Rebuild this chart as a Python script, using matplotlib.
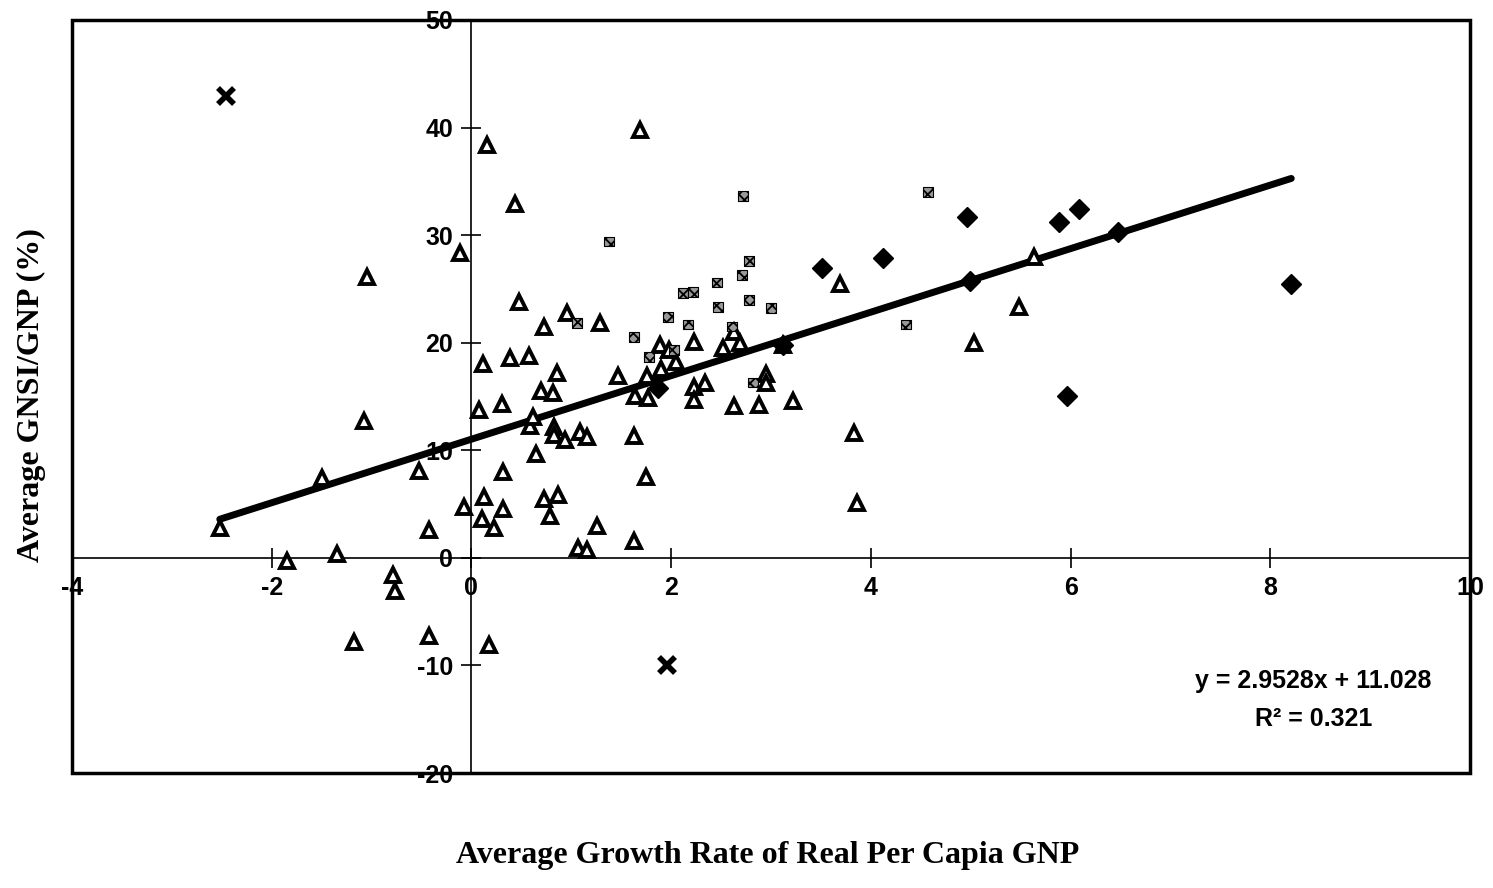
#!/usr/bin/env python3
"""
Scatter of savings ratio vs per capita growth, with the fitted trend line.
"""
import matplotlib
matplotlib.use("Agg")
import matplotlib.pyplot as plt
from matplotlib.patches import Rectangle

plt.rcParams["axes.unicode_minus"] = False
plt.rcParams["hatch.linewidth"] = 1.3

# open triangles
tri_x = [-2.52, -1.85, -1.50, -1.35, -1.18, -1.08, -1.05, -0.79, -0.77, -0.52,
         -0.42, -0.42, -0.11, -0.07, 0.08, 0.12, 0.11, 0.13, 0.16, 0.18,
         0.23, 0.31, 0.32, 0.32, 0.39, 0.44, 0.48, 0.58, 0.59, 0.62,
         0.65, 0.70, 0.73, 0.73, 0.79, 0.82, 0.83, 0.83, 0.86, 0.87,
         0.94, 0.96, 1.07, 1.09, 1.16, 1.16, 1.26, 1.29, 1.47, 1.63,
         1.63, 1.64, 1.69, 1.75, 1.76, 1.77, 1.89, 1.90, 1.98, 2.05,
         2.23, 2.23, 2.23, 2.34, 2.52, 2.63, 2.63, 2.69, 2.88, 2.95,
         2.95, 3.12, 3.22, 3.69, 3.83, 3.86, 5.03, 5.48, 5.63]
tri_y = [2.8, -0.3, 7.4, 0.4, -7.8, 12.7, 26.1, -1.6, -3.1, 8.1,
         2.6, -7.3, 28.3, 4.7, 13.7, 18.0, 3.6, 5.7, 38.4, -8.1,
         2.8, 14.3, 8.0, 4.5, 18.6, 32.9, 23.8, 18.8, 12.3, 13.1,
         9.7, 15.5, 21.5, 5.5, 3.9, 15.3, 12.2, 11.4, 17.2, 5.8,
         11.0, 22.8, 0.9, 11.7, 11.2, 0.7, 3.0, 21.8, 16.9, 11.3,
         1.6, 15.0, 39.8, 7.5, 16.9, 14.9, 19.8, 17.6, 19.3, 18.2,
         20.1, 15.9, 14.7, 16.3, 19.5, 21.0, 14.1, 20.0, 14.2, 17.1,
         16.3, 19.8, 14.6, 25.5, 11.6, 5.1, 20.0, 23.3, 28.0]

# filled diamonds
dia_x = [1.87, 3.12, 3.51, 4.12, 4.96, 4.99, 5.88, 5.96, 6.08, 6.47, 8.21]
dia_y = [15.8, 19.8, 26.9, 27.9, 31.7, 25.7, 31.2, 15.0, 32.4, 30.3, 25.5]

# small hatched squares
sq_x = [1.06, 1.38, 1.63, 1.78, 1.97, 2.03, 2.12, 2.17, 2.22, 2.46,
        2.47, 2.61, 2.71, 2.72, 2.78, 2.78, 2.82, 3.00, 4.35, 4.57]
sq_y = [21.8, 29.4, 20.5, 18.7, 22.4, 19.3, 24.6, 21.7, 24.7, 25.6,
        23.3, 21.5, 26.3, 33.6, 27.6, 24.0, 16.3, 23.2, 21.7, 34.0]

# star markers
star_x = [-2.46, 1.96]
star_y = [42.9, -10.0]

slope, intercept = 2.9528, 11.028
fit_x = [-2.52, 8.21]

x_ticks = [-4, -2, 0, 2, 4, 6, 8, 10]
y_ticks = [-20, -10, 0, 10, 20, 30, 40, 50]

fig = plt.figure(figsize=(14.93, 8.88), dpi=100)
ax = fig.add_axes([0.0482, 0.1295, 0.9364, 0.848])
ax.set_xlim(-4, 10)
ax.set_ylim(-20, 50)

ax.plot(fit_x, [slope * v + intercept for v in fit_x], color="black", lw=5,
        solid_capstyle="round", zorder=2)
ax.plot(tri_x, tri_y, ls="none", marker="^", ms=10.5, mfc="white", mec="black",
        mew=2.8, zorder=3)
ax.plot(dia_x, dia_y, ls="none", marker="D", ms=10, mfc="black", mec="black",
        zorder=3)
ax.scatter(sq_x, sq_y, marker="s", s=50, facecolor="#999999", edgecolor="black",
           hatch="xxx", linewidths=0.8, zorder=3)
ax.plot(star_x, star_y, ls="none", marker="x", ms=11, mec="black", mew=4,
        zorder=3)

# axes through the origin, frame drawn around the plot area
ax.spines["left"].set_position(("data", 0))
ax.spines["bottom"].set_position(("data", 0))
for s in ["left", "bottom"]:
    ax.spines[s].set_linewidth(1.2)
for s in ["top", "right"]:
    ax.spines[s].set_linewidth(2)
ax.add_patch(Rectangle((0, 0), 1, 1, transform=ax.transAxes, fill=False,
                       lw=2.5, ec="black", clip_on=False, zorder=5))

ax.set_xticks(x_ticks)
ax.set_yticks(y_ticks)
ax.tick_params(direction="inout", length=14, width=1.2, labelsize=18,
               pad=6)
for lab in ax.get_xticklabels() + ax.get_yticklabels():
    lab.set_family("Liberation Sans")
    lab.set_weight("bold")

ax.text(8.43, -13.24, "y = 2.9528x + 11.028\nR\u00b2 = 0.321", ha="center",
        va="center", fontsize=18, family="Liberation Sans", weight="bold",
        linespacing=1.72)

fig.text(0.514, 0.02, "Average Growth Rate of Real Per Capia GNP",
         ha="center", va="bottom", fontsize=23, family="Liberation Serif",
         weight="bold")
fig.text(0.021, 0.555, "Average GNSI/GNP (%)", ha="center", va="center",
         rotation=90, fontsize=23, family="Liberation Serif", weight="bold")

fig.savefig("out.png", dpi=100)
